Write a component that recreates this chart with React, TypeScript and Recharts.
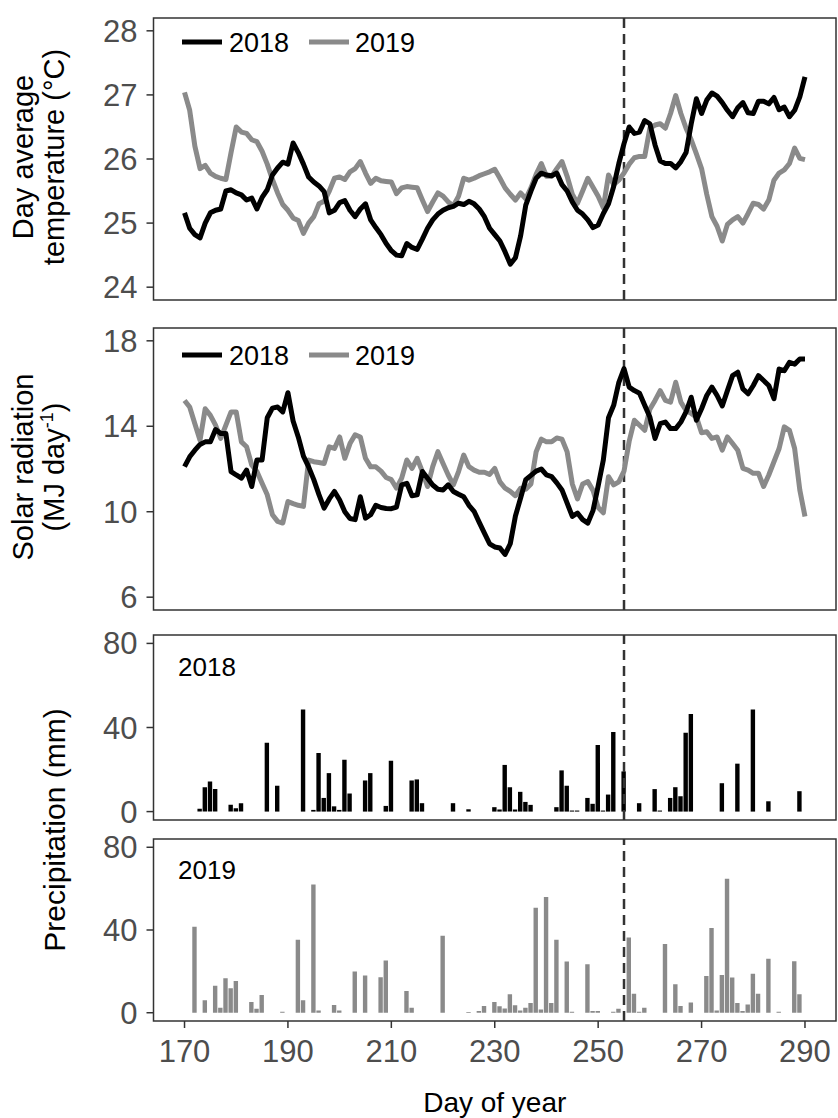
import React from 'react';
import {
  LineChart,
  Line,
  BarChart,
  Bar,
  XAxis,
  YAxis,
  ReferenceLine,
  ReferenceArea,
  Legend,
} from 'recharts';

// Daily weather, day of year 170 .. 290
const FIRST_DAY = 170;

const temp2018 = [
  25.16, 24.92, 24.82, 24.77, 25.0, 25.16, 25.2, 25.22, 25.5, 25.52,
  25.47, 25.44, 25.36, 25.39, 25.22, 25.4, 25.52, 25.75, 25.86, 25.95,
  25.92, 26.25, 26.1, 25.92, 25.72, 25.64, 25.58, 25.49, 25.16, 25.2,
  25.32, 25.35, 25.2, 25.1, 25.22, 25.3, 25.05, 24.93, 24.82, 24.68,
  24.57, 24.5, 24.49, 24.68, 24.62, 24.59, 24.75, 24.92, 25.05, 25.14,
  25.2, 25.24, 25.26, 25.31, 25.29, 25.34, 25.3, 25.22, 25.1, 24.92,
  24.82, 24.72, 24.55, 24.36, 24.46, 24.8, 25.28, 25.5, 25.7, 25.78,
  25.75, 25.74, 25.78, 25.6, 25.5, 25.33, 25.2, 25.14, 25.05, 24.93,
  24.97, 25.15, 25.3, 25.57, 25.93, 26.24, 26.5, 26.4, 26.42, 26.6,
  26.55, 26.22, 25.97, 25.93, 25.93, 25.86, 25.96, 26.1, 26.55, 26.94,
  26.71, 26.92, 27.03, 26.98, 26.88, 26.76, 26.66, 26.8, 26.88, 26.72,
  26.71, 26.9, 26.9, 26.86, 26.96, 26.77, 26.81, 26.66, 26.76, 26.97,
  27.28,
];

const temp2019 = [
  27.04, 26.76, 26.2, 25.85, 25.9, 25.78, 25.73, 25.7, 25.68, 26.1,
  26.5, 26.42, 26.4, 26.3, 26.27, 26.12, 25.92, 25.68, 25.47, 25.29,
  25.2, 25.08, 25.04, 24.84, 25.0, 25.1, 25.3, 25.34, 25.5, 25.7,
  25.72, 25.68, 25.8, 25.85, 25.96, 25.78, 25.62, 25.7, 25.66, 25.65,
  25.64, 25.46, 25.55, 25.57, 25.56, 25.55, 25.36, 25.18, 25.33, 25.47,
  25.42, 25.33, 25.27, 25.42, 25.7, 25.67, 25.7, 25.74, 25.77, 25.8,
  25.84, 25.7, 25.55, 25.45, 25.36, 25.47, 25.38, 25.55, 25.76, 25.93,
  25.73, 25.73, 25.85, 25.96, 25.73, 25.45, 25.31, 25.5, 25.7, 25.56,
  25.42, 25.24, 25.75, 25.6, 25.67, 25.78, 25.92, 26.02, 26.04, 26.04,
  26.48, 26.53, 26.55, 26.48, 26.71, 26.99, 26.71, 26.48, 26.3, 26.08,
  25.85, 25.45, 25.1, 24.95, 24.72, 24.98, 25.05, 25.1, 25.0, 25.15,
  25.31, 25.29, 25.22, 25.36, 25.67, 25.78, 25.83, 25.93, 26.17, 26.01,
  25.99,
];

const solar2018 = [
  12.11, 12.57, 12.88, 13.15, 13.27, 13.27, 13.85, 13.66, 13.66, 11.88,
  11.72, 11.57, 11.95, 11.18, 12.42, 12.42, 14.4, 14.85, 14.9, 14.67,
  15.57, 14.25, 13.5, 12.6, 12.1, 11.5, 10.8, 10.17, 10.6, 10.95,
  10.55, 10.0, 9.68, 9.63, 10.7, 9.7, 9.86, 10.3, 10.2, 10.15,
  10.14, 10.22, 11.26, 11.33, 10.75, 10.79, 11.88, 11.57, 11.25, 11.05,
  11.02, 11.26, 10.95, 10.82, 10.7, 10.3, 10.02, 9.5, 9.0, 8.5,
  8.35, 8.3, 8.0, 8.5, 9.8, 10.64, 11.5, 11.7, 11.9, 12.0,
  11.72, 11.64, 11.35, 11.02, 10.4, 9.78, 9.94, 9.63, 9.47, 10.05,
  11.2, 12.42, 14.4, 14.98, 16.06, 16.7, 15.83, 15.67, 15.55, 14.98,
  14.43, 13.43, 14.12, 14.2, 13.89, 13.89, 14.2, 14.67, 15.36, 14.28,
  14.82, 15.44, 15.83, 15.44, 14.95, 15.67, 16.37, 16.53, 15.75, 15.52,
  15.91, 16.37, 16.14, 15.91, 15.29, 16.68, 16.6, 16.99, 16.91, 17.15,
  17.15,
];

const solar2019 = [
  15.21, 14.9, 14.12, 13.35, 14.82, 14.51, 14.05, 13.43, 14.05, 14.67,
  14.67, 13.27, 13.04, 12.19, 11.88, 11.33, 10.79, 9.86, 9.55, 9.47,
  10.48, 10.38, 10.3, 10.25, 12.42, 12.34, 12.3, 12.26, 13.04, 12.96,
  13.5, 12.5, 13.19, 13.6, 13.5, 12.5, 12.1, 12.1, 11.9, 11.6,
  11.5, 11.1, 11.57, 12.42, 12.03, 12.5, 11.88, 11.18, 12.11, 12.81,
  12.26, 11.72, 11.26, 11.88, 12.65, 12.11, 11.95, 11.85, 11.85, 11.75,
  12.03, 11.4, 11.1, 10.95, 10.75, 11.1, 11.05, 11.3, 12.8, 13.4,
  13.27, 13.27, 13.45, 13.4, 12.8, 11.3, 10.6, 11.3, 11.41, 11.0,
  10.2, 9.95, 11.64, 11.26, 11.4, 11.9, 13.3, 14.28, 14.05, 13.81,
  14.8, 15.21, 15.67, 15.21, 15.13, 16.06, 15.13, 14.74, 14.6, 14.43,
  13.7, 13.74, 13.43, 13.5, 12.88, 13.5, 13.19, 12.88, 12.03, 11.95,
  11.8, 11.8, 11.18, 11.72, 12.34, 12.96, 13.97, 13.81, 12.96, 11.02,
  9.78,
];

// Rainy days and daily precipitation (mm)
const rainDays2018 = [
  173, 174, 175, 176, 179, 180, 181, 186, 188, 193, 195, 196, 197, 198, 199,
  200, 201, 202, 205, 206, 209, 210, 214, 215, 216, 222, 225, 230, 231, 232,
  233, 234, 235, 236, 237, 242, 243, 244, 245, 246, 248, 249, 250, 251, 252,
  253, 255, 258, 261, 262, 264, 265, 266, 267, 268, 274, 277, 280, 283, 289,
];
const rain2018 = [
  1.4, 11.6, 14.3, 10.7, 3.2, 1.6, 4.0, 32.7, 12.3, 48.6, 0.8, 27.9, 6.5, 18.3, 2.5,
  0.8, 24.7, 8.6, 14.8, 18.3, 2.7, 24.2, 14.8, 15.3, 4.0, 4.0, 1.1, 2.1, 1.0, 22.2,
  11.6, 1.0, 9.4, 4.6, 3.2, 2.1, 19.6, 12.3, 0.5, 0.5, 6.5, 3.7, 31.7, 0.5, 8.1,
  37.9, 19.1, 4.0, 10.7, 0.5, 6.5, 11.6, 7.3, 37.5, 46.4, 13.5, 22.8, 48.6, 4.9, 9.7,
];

const rainDays2019 = [
  172, 174, 176, 177, 178, 179, 180, 183, 184, 185, 189, 192, 193, 195, 196,
  199, 200, 203, 205, 208, 209, 213, 214, 220, 225, 227, 228, 230, 231, 232,
  233, 234, 235, 236, 237, 238, 239, 240, 241, 242, 244, 245, 248, 249, 250,
  253, 254, 256, 257, 258, 259, 263, 265, 266, 268, 271, 272, 273, 274, 275,
  276, 277, 278, 279, 280, 281, 283, 285, 288, 289,
];
const rain2019 = [
  41.6, 6.0, 13.0, 2.4, 16.7, 11.8, 15.4, 5.2, 1.9, 8.6, 0.5, 35.3, 6.0, 62.0, 1.1,
  3.7, 1.1, 19.9, 18.0, 17.2, 25.3, 10.5, 2.4, 37.2, 0.3, 0.8, 3.2, 5.2, 3.1, 2.1,
  8.9, 3.6, 1.1, 2.4, 4.7, 50.7, 1.6, 55.9, 4.7, 35.3, 24.8, 0.5, 23.5, 0.8, 0.8,
  0.5, 1.9, 36.4, 9.2, 0.5, 2.4, 33.2, 13.8, 3.2, 4.9, 17.8, 41.0, 1.1, 18.3, 64.8,
  17.0, 4.7, 0.8, 4.0, 18.9, 9.2, 26.1, 0.5, 24.9, 8.9,
];

const dayTicks = [170, 190, 210, 230, 250, 270, 290];
const tempTicks = [24, 25, 26, 27, 28];
const solarTicks = [6, 10, 14, 18];
const rainTicks = [0, 40, 80];
const markerDay = 255;
const years = ['2018', '2019'];

// Tables for the charts
const weather = temp2018.map((t, i) => ({
  day: FIRST_DAY + i,
  t2018: t,
  t2019: temp2019[i],
  s2018: solar2018[i],
  s2019: solar2019[i],
}));
const rainTable2018 = rainDays2018.map((d, i) => ({ day: d, mm: rain2018[i] }));
const rainTable2019 = rainDays2019.map((d, i) => ({ day: d, mm: rain2019[i] }));

// Layout and style
const W = 838;
const H = 1118;
const FONT = '"Liberation Sans", Arial, Helvetica, sans-serif';
const C2018 = '#000000';
const C2019 = '#8a8a8a';
const FRAME = '#333333';
const TICK_TEXT = '#4d4d4d';
const X_DOMAIN: [number, number] = [164, 296];
const Y_AXIS_W = 153.5;
const LINE_W = 5;

const tickStyle = { fill: TICK_TEXT, fontSize: 31, fontFamily: FONT };
const tickLineStyle = { stroke: FRAME, strokeWidth: 1.5 };

function RotatedTitle(props: any) {
  const { lines, baselines, centerY, size } = props;
  return (
    <g>
      {lines.map((ln: any, i: number) => (
        <text
          key={i}
          x={baselines[i]}
          y={centerY}
          transform={`rotate(-90 ${baselines[i]} ${centerY})`}
          textAnchor="middle"
          fontFamily={FONT}
          fontSize={size}
          fill="#000"
        >
          {ln}
        </text>
      ))}
    </g>
  );
}

function DayTitle(props: any) {
  const vb = props.viewBox || { x: 0, y: 0, width: 0 };
  return (
    <text
      x={vb.x + vb.width / 2}
      y={vb.y + 91}
      textAnchor="middle"
      fontFamily={FONT}
      fontSize={28}
      fill="#000"
    >
      Day of year
    </text>
  );
}

function YearKey() {
  return (
    <svg width={260} height={30} style={{ display: 'block' }}>
      <line x1={0} y1={15} x2={40} y2={15} stroke={C2018} strokeWidth={LINE_W} />
      <text x={47} y={15} dy="0.36em" fontFamily={FONT} fontSize={27} fill="#000">
        {years[0]}
      </text>
      <line x1={127} y1={15} x2={167} y2={15} stroke={C2019} strokeWidth={LINE_W} />
      <text x={173} y={15} dy="0.36em" fontFamily={FONT} fontSize={27} fill="#000">
        {years[1]}
      </text>
    </svg>
  );
}

function YearTag(props: any) {
  return (
    <svg width={100} height={30} style={{ display: 'block' }}>
      <text x={0} y={15} dy="0.36em" fontFamily={FONT} fontSize={26} fill="#000">
        {props.year}
      </text>
    </svg>
  );
}

function LinePanel(props: any) {
  const { top, bottom, k2018, k2019, yDomain, yTicks, title, keyTop } = props;
  return (
    <div style={{ position: 'absolute', left: 0, top: 0 }}>
      <LineChart
        width={W}
        height={H}
        data={weather}
        margin={{ top, right: 2, left: 0, bottom: H - bottom - 12 }}
      >
        <XAxis
          dataKey="day"
          type="number"
          domain={X_DOMAIN}
          ticks={dayTicks}
          allowDataOverflow
          tick={false}
          tickLine={tickLineStyle}
          tickSize={7}
          axisLine={false}
          height={12}
        />
        <YAxis
          type="number"
          domain={yDomain}
          ticks={yTicks}
          allowDataOverflow
          width={Y_AXIS_W}
          axisLine={false}
          tickLine={tickLineStyle}
          tickSize={7}
          tickMargin={9}
          tick={tickStyle}
          label={title}
        />
        <ReferenceLine
          x={markerDay}
          stroke={FRAME}
          strokeWidth={2.5}
          strokeDasharray="10 6"
        />
        <Line
          type="linear"
          dataKey={k2019}
          stroke={C2019}
          strokeWidth={LINE_W}
          dot={false}
          strokeLinejoin="round"
          isAnimationActive={false}
        />
        <Line
          type="linear"
          dataKey={k2018}
          stroke={C2018}
          strokeWidth={LINE_W}
          dot={false}
          strokeLinejoin="round"
          isAnimationActive={false}
        />
        <ReferenceArea
          x1={X_DOMAIN[0]}
          x2={X_DOMAIN[1]}
          y1={yDomain[0]}
          y2={yDomain[1]}
          fill="none"
          stroke={FRAME}
          strokeWidth={1.5}
        />
        <Legend
          layout="horizontal"
          verticalAlign="middle"
          align="center"
          content={() => <YearKey />}
          wrapperStyle={{ left: 182, top: keyTop, width: 260, height: 30 }}
        />
      </LineChart>
    </div>
  );
}

function RainPanel(props: any) {
  const { top, bottom, data, color, year, tagTop, withAxis, title } = props;
  const axisH = 97;
  return (
    <div style={{ position: 'absolute', left: 0, top: 0 }}>
      <BarChart
        width={W}
        height={H}
        data={data}
        margin={{ top, right: 2, left: 0, bottom: withAxis ? H - bottom - axisH : H - bottom }}
      >
        <XAxis
          dataKey="day"
          type="number"
          domain={X_DOMAIN}
          ticks={dayTicks}
          allowDataOverflow
          hide={!withAxis}
          height={axisH}
          tickLine={tickLineStyle}
          tickSize={7}
          tickMargin={12}
          axisLine={false}
          tick={tickStyle}
          label={withAxis ? <DayTitle /> : undefined}
        />
        <YAxis
          type="number"
          domain={[-4, 84]}
          ticks={rainTicks}
          allowDataOverflow
          width={Y_AXIS_W}
          axisLine={false}
          tickLine={tickLineStyle}
          tickSize={7}
          tickMargin={9}
          tick={tickStyle}
          label={title}
        />
        <Bar dataKey="mm" fill={color} barSize={4.4} isAnimationActive={false} />
        <ReferenceLine
          x={markerDay}
          stroke={FRAME}
          strokeWidth={2.5}
          strokeDasharray="10 6"
        />
        <ReferenceArea
          x1={X_DOMAIN[0]}
          x2={X_DOMAIN[1]}
          y1={-4}
          y2={84}
          fill="none"
          stroke={FRAME}
          strokeWidth={1.5}
        />
        <Legend
          layout="horizontal"
          verticalAlign="middle"
          align="center"
          content={() => <YearTag year={year} />}
          wrapperStyle={{ left: 178, top: tagTop, width: 100, height: 30 }}
        />
      </BarChart>
    </div>
  );
}

export default function App() {
  return (
    <div
      style={{
        position: 'absolute',
        left: 0,
        top: 0,
        width: W,
        height: H,
        background: '#fff',
        overflow: 'hidden',
      }}
    >
      <LinePanel
        top={18}
        bottom={300}
        k2018="t2018"
        k2019="t2019"
        yDomain={[23.8, 28.2]}
        yTicks={tempTicks}
        keyTop={27}
        title={
          <RotatedTitle
            lines={['Day average', 'temperature (°C)']}
            baselines={[33, 64]}
            centerY={157}
            size={29}
          />
        }
      />
      <LinePanel
        top={328}
        bottom={610}
        k2018="s2018"
        k2019="s2019"
        yDomain={[5.4, 18.6]}
        yTicks={solarTicks}
        keyTop={340}
        title={
          <RotatedTitle
            lines={[
              'Solar radiation',
              <>
                (MJ day
                <tspan dy={-11} fontSize={18}>-1</tspan>
                <tspan dy={11}>)</tspan>
              </>,
            ]}
            baselines={[33, 64]}
            centerY={467}
            size={29}
          />
        }
      />
      <RainPanel
        top={635}
        bottom={820}
        data={rainTable2018}
        color={C2018}
        year={years[0]}
        tagTop={652}
        withAxis={false}
        title={
          <RotatedTitle
            lines={['Precipitation (mm)']}
            baselines={[65]}
            centerY={830}
            size={30}
          />
        }
      />
      <RainPanel
        top={839}
        bottom={1021}
        data={rainTable2019}
        color={C2019}
        year={years[1]}
        tagTop={855}
        withAxis={true}
      />
    </div>
  );
}
